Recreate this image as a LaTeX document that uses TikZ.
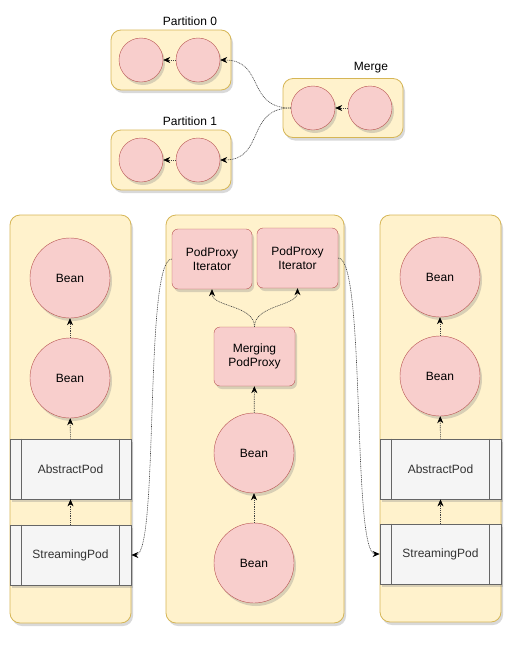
\documentclass[tikz,border=0pt]{standalone}
\usepackage{fontspec}
\setmainfont{Liberation Sans}
\usetikzlibrary{arrows.meta}
\usetikzlibrary{shadows}
\usetikzlibrary{positioning}

\definecolor{groupfill}{HTML}{FFF2CC}
\definecolor{groupline}{HTML}{D6B656}
\definecolor{beanfill}{HTML}{F8CECC}
\definecolor{beanline}{HTML}{B85450}
\definecolor{podfill}{HTML}{F5F5F5}
\definecolor{podline}{HTML}{666666}

\begin{document}
\begin{tikzpicture}[x=1pt, y=-1pt, font=\fontsize{12}{14}\selectfont,
    shade/.style={drop shadow={opacity=0.3, shadow xshift=2pt, shadow yshift=-3pt}},
    group/.style={rectangle, draw=groupline, fill=groupfill, rounded corners=10pt, line width=0.8pt, shade},
    bean/.style={circle, draw=beanline, fill=beanfill, minimum size=80pt, inner sep=0pt, shade},
    dot/.style={circle, draw=beanline, fill=beanfill, minimum size=44pt, inner sep=0pt, shade},
    pod/.style={rectangle, draw=podline, fill=podfill, minimum width=121pt, minimum height=60pt, text=black!80, line width=0.8pt, shade},
    proxy/.style={rectangle, rounded corners=6pt, draw=beanline, fill=beanfill, minimum width=80pt, minimum height=60pt, align=center, inner sep=1pt, shade},
    link/.style={draw=black!75, dash pattern=on 1pt off 0.8pt, line width=0.6pt, -{Stealth[length=7pt, width=6pt, black]}}
]
    \useasboundingbox (0,0) rectangle (524,648);

    % merge part
    \node[group, minimum width=120pt, minimum height=60pt] (part0) at (171,60) {};
    \node[group, minimum width=120pt, minimum height=60pt] (part1) at (171,160) {};
    \node[group, minimum width=120pt, minimum height=59pt] (merge) at (343,108) {};
    \node (part0label) at (190,21) {Partition 0};
    \node (part1label) at (190,121) {Partition 1};
    \node (mergelabel) at (371,68) {Merge};
    \node[dot] (p0a) at (141,60) {};
    \node[dot] (p0b) at (198,60) {};
    \node[dot] (p1a) at (141,160) {};
    \node[dot] (p1b) at (198,160) {};
    \node[dot] (m1) at (313,108) {};
    \node[dot] (m2) at (370,108) {};

    % columns
    \node[group, minimum width=121pt, minimum height=408pt] (left) at (70.5,419) {};
    \node[group, minimum width=178pt, minimum height=408pt] (mid) at (255,419) {};
    \node[group, minimum width=121pt, minimum height=407pt] (right) at (440.5,418.5) {};

    \node[bean] (lb1) at (70,278) {Bean};
    \node[bean] (lb2) at (70,378) {Bean};
    \node[pod] (la) at (70.5,469) {AbstractPod};
    \node[pod] (ls) at (70.5,555) {StreamingPod};

    \node[proxy] (it1) at (212,259) {PodProxy\\Iterator};
    \node[proxy, minimum width=81pt] (it2) at (297.5,258) {PodProxy\\Iterator};
    \node[proxy, minimum width=81pt, minimum height=59pt] (mp) at (254.5,356.5) {Merging\\PodProxy};
    \node[bean] (mb1) at (254,453) {Bean};
    \node[bean] (mb2) at (254,563) {Bean};

    \node[bean] (rb1) at (440,277) {Bean};
    \node[bean] (rb2) at (440,376) {Bean};
    \node[pod] (ra) at (440.5,469) {AbstractPod};
    \node[pod] (rs) at (440.5,554) {StreamingPod};

    \foreach \p in {la,ls,ra,rs} {
        \draw[podline, line width=0.8pt] ([xshift=12pt]\p.north west) -- ([xshift=12pt]\p.south west);
        \draw[podline, line width=0.8pt] ([xshift=-12pt]\p.north east) -- ([xshift=-12pt]\p.south east);
    }

    % connectors
    \draw[link] (p0b) -- (p0a);
    \draw[link] (p1b) -- (p1a);
    \draw[link] (m2) -- (m1);
    \draw[link] (m1.west) .. controls +(-45,0) and +(45,0) .. (p0b.east);
    \draw[link] (m1.west) .. controls +(-45,0) and +(45,0) .. (p1b.east);

    \draw[link] (lb2) -- (lb1);
    \draw[link] (la) -- (lb2);
    \draw[link] (ls) -- (la);
    \draw[link] (rb2) -- (rb1);
    \draw[link] (ra) -- (rb2);
    \draw[link] (rs) -- (ra);

    \draw[link] (mb2) -- (mb1);
    \draw[link] (mb1) -- (mp);
    \draw[link] (mp.north) .. controls +(0,-22) and +(0,18) .. (it1.south);
    \draw[link] (mp.north) .. controls +(0,-22) and +(0,18) .. (it2.south);
    \draw[link] (it1.west) .. controls +(-28,0) and +(28,0) .. (ls.east);
    \draw[link] (it2.east) .. controls +(28,0) and +(-28,0) .. (rs.west);
\end{tikzpicture}
\end{document}
